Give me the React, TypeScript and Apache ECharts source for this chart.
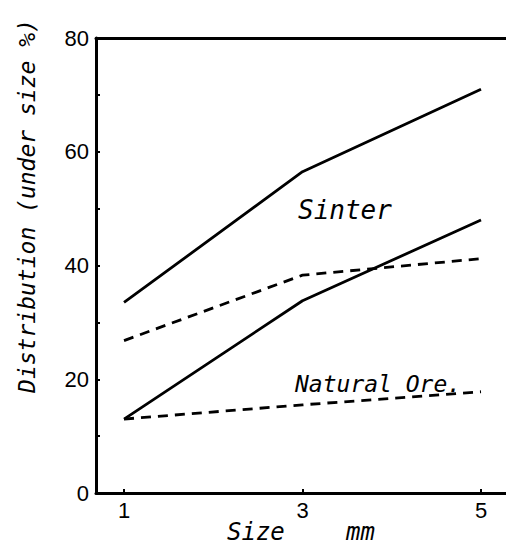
import React, { useEffect, useRef } from "react";
import * as echarts from "echarts";

const sizes = [1, 3, 5];
const sinterSolid = [33.5, 56.5, 71];
const sinterDashed = [26.8, 38.3, 41.2];
const oreSolid = [13, 33.8, 48];
const oreDashed = [13, 15.5, 17.8];
const xTicks = [1, 3, 5];

const pairs = (ys: number[]) => sizes.map((x, i) => [x, ys[i]]);

const LETTER = "'DejaVu Sans Mono', 'Liberation Mono', monospace";

export default function App() {
  const ref = useRef<HTMLDivElement>(null);
  useEffect(() => {
    const chart = echarts.init(ref.current!, null, { renderer: "svg" });
    const line = (name: string, ys: number[], dashed: boolean) => ({
      name,
      type: "line",
      data: pairs(ys),
      symbol: "none",
      silent: true,
      lineStyle: { color: "#000", width: 2.8, type: dashed ? [10, 7] : "solid" },
    });
    chart.setOption({
      animation: false,
      backgroundColor: "#fff",
      grid: { left: 96, right: 0, top: 38, bottom: 55 },
      xAxis: [
        {
          type: "value",
          min: 0.686,
          max: 5.28,
          axisLine: { show: true, lineStyle: { color: "#000", width: 3 } },
          axisTick: { show: true, inside: true, length: 4, customValues: xTicks, lineStyle: { color: "#000", width: 2 } },
          axisLabel: {
            customValues: xTicks,
            color: "#000",
            fontSize: 22,
            fontFamily: "'Liberation Sans', Arial, sans-serif",
            margin: 6,
          },
          splitLine: { show: false },
        },
        {
          type: "value",
          position: "top",
          min: 0.686,
          max: 5.28,
          axisLine: { show: true, lineStyle: { color: "#000", width: 3 } },
          axisTick: { show: false },
          axisLabel: { show: false },
          splitLine: { show: false },
        },
      ],
      yAxis: {
        type: "value",
        min: 0,
        max: 80,
        interval: 20,
        axisLine: { show: true, lineStyle: { color: "#000", width: 3 } },
        axisTick: { show: true, inside: true, length: 4, lineStyle: { color: "#000", width: 2 } },
        minorTick: { show: true, splitNumber: 2, length: 4, lineStyle: { color: "#000", width: 2 } },
        axisLabel: {
          color: "#000",
          fontSize: 22,
          fontFamily: "'Liberation Sans', Arial, sans-serif",
          margin: 7,
        },
        splitLine: { show: false },
      },
      series: [
        line("Sinter (solid)", sinterSolid, false),
        line("Sinter (dashed)", sinterDashed, true),
        line("Natural Ore (solid)", oreSolid, false),
        line("Natural Ore (dashed)", oreDashed, true),
      ],
      graphic: [
        {
          type: "text",
          x: 27,
          y: 206,
          rotation: Math.PI / 2,
          style: {
            text: "Distribution (under size %)",
            fill: "#000",
            font: `italic 23px ${LETTER}`,
            textAlign: "center",
            textVerticalAlign: "middle",
          },
        },
        {
          type: "text",
          x: 227,
          y: 532,
          style: {
            text: "Size",
            fill: "#000",
            font: `italic 24px ${LETTER}`,
            textAlign: "left",
            textVerticalAlign: "middle",
          },
        },
        {
          type: "text",
          x: 346,
          y: 532,
          style: {
            text: "mm",
            fill: "#000",
            font: `italic 24px ${LETTER}`,
            textAlign: "left",
            textVerticalAlign: "middle",
          },
        },
        {
          type: "text",
          x: 298,
          y: 210,
          style: {
            text: "Sinter",
            fill: "#000",
            font: `italic 26px ${LETTER}`,
            textAlign: "left",
            textVerticalAlign: "middle",
          },
        },
        {
          type: "text",
          x: 295,
          y: 384,
          style: {
            text: "Natural Ore.",
            fill: "#000",
            font: `italic 23px ${LETTER}`,
            textAlign: "left",
            textVerticalAlign: "middle",
          },
        },
      ],
    });
    return () => chart.dispose();
  }, []);
  return (
    <div
      ref={ref}
      style={{ position: "fixed", left: 0, top: 0, width: 506, height: 548, background: "#fff" }}
    />
  );
}
